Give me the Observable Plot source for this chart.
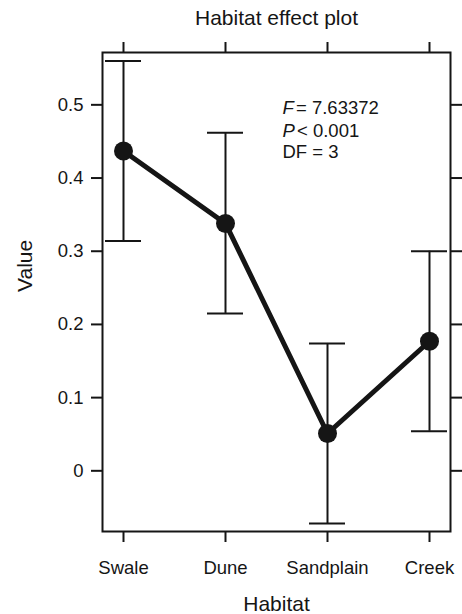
<!DOCTYPE html>
<html>
<head>
<meta charset="utf-8">
<script src="https://cdn.jsdelivr.net/npm/d3@7"></script>
<script src="https://cdn.jsdelivr.net/npm/@observablehq/plot@0.6"></script>
<style>
  html, body { margin: 0; padding: 0; background: #fff; }
</style>
</head>
<body>
<div id="chart"></div>
<script>
// ---- data ----
const habitats = ["Swale", "Dune", "Sandplain", "Creek"];
const fitValues = [0.437, 0.338, 0.051, 0.177];
const lowerValues = [0.314, 0.215, -0.072, 0.054];
const upperValues = [0.560, 0.462, 0.174, 0.300];
const yTicks = [0, 0.1, 0.2, 0.3, 0.4, 0.5];
const yDomain = [-0.0829, 0.5715];

const titleText = "Habitat effect plot";
const xLabel = "Habitat";
const yLabel = "Value";
const statSymbols = ["F", "P"];
const statRest = ["= 7.63372", "< 0.001"];
const dfText = "DF = 3";

const rows = habitats.map((h, i) => ({
  habitat: h, fit: fitValues[i], lower: lowerValues[i], upper: upperValues[i]
}));

const ink = "#151515";
const fmt = d3.format("~g");

const chart = Plot.plot({
  width: 462,
  height: 614,
  marginLeft: 102,
  marginRight: 12,
  marginTop: 52,
  marginBottom: 83,
  style: { fontFamily: "'Liberation Sans', Arial, Helvetica, sans-serif", color: ink, background: "#fff" },
  x: { type: "band", domain: habitats, paddingInner: 0.648, paddingOuter: 0.028, align: 0.5 },
  y: { domain: yDomain },
  marks: [
    Plot.frame({ stroke: ink, strokeWidth: 2 }),
    // axes
    Plot.axisX({ anchor: "bottom", tickSize: 11, tickPadding: 18, fontSize: 18.5, label: null, strokeWidth: 2, stroke: ink, fill: ink }),
    Plot.axisX({ anchor: "top", tickSize: 11, label: null, strokeWidth: 2, stroke: ink, fill: "none" }),
    Plot.axisY({ anchor: "left", ticks: yTicks, tickFormat: fmt, tickSize: 11, tickPadding: 8, fontSize: 18.5, label: null, strokeWidth: 2, stroke: ink, fill: ink }),
    Plot.axisY({ anchor: "right", ticks: yTicks, tickSize: 11, label: null, strokeWidth: 2, stroke: ink, fill: "none" }),
    // error bars
    Plot.ruleX(rows, { x: "habitat", y1: "lower", y2: "upper", stroke: ink, strokeWidth: 2 }),
    Plot.tickY(rows, { x: "habitat", y: "upper", stroke: ink, strokeWidth: 2 }),
    Plot.tickY(rows, { x: "habitat", y: "lower", stroke: ink, strokeWidth: 2 }),
    // effect line and points
    Plot.line(rows, { x: "habitat", y: "fit", stroke: ink, strokeWidth: 5 }),
    Plot.dot(rows, { x: "habitat", y: "fit", r: 9.5, fill: ink, stroke: "none" }),
    // titles
    Plot.text([titleText], { text: d => d, frameAnchor: "top", lineAnchor: "middle", dy: -34, fontSize: 21, fill: ink }),
    Plot.text([xLabel], { text: d => d, frameAnchor: "bottom", lineAnchor: "middle", dy: 73, fontSize: 21, fill: ink }),
    Plot.text([yLabel], { text: d => d, frameAnchor: "left", lineAnchor: "middle", dx: -77, rotate: -90, fontSize: 21, fill: ink }),
    // statistics annotation
    Plot.text([statSymbols[0]], { text: d => d, frameAnchor: "top-left", lineAnchor: "middle", textAnchor: "start", dx: 180, dy: 55.5, fontSize: 18.5, fontStyle: "italic", fill: ink }),
    Plot.text([statRest[0]], { text: d => d, frameAnchor: "top-left", lineAnchor: "middle", textAnchor: "start", dx: 193.5, dy: 55.5, fontSize: 18.5, fill: ink }),
    Plot.text([statSymbols[1]], { text: d => d, frameAnchor: "top-left", lineAnchor: "middle", textAnchor: "start", dx: 180, dy: 78.5, fontSize: 18.5, fontStyle: "italic", fill: ink }),
    Plot.text([statRest[1]], { text: d => d, frameAnchor: "top-left", lineAnchor: "middle", textAnchor: "start", dx: 194.5, dy: 78.5, fontSize: 18.5, fill: ink }),
    Plot.text([dfText], { text: d => d, frameAnchor: "top-left", lineAnchor: "middle", textAnchor: "start", dx: 180, dy: 100, fontSize: 18.5, fill: ink })
  ]
});

document.getElementById("chart").appendChild(chart);
</script>
</body>
</html>
